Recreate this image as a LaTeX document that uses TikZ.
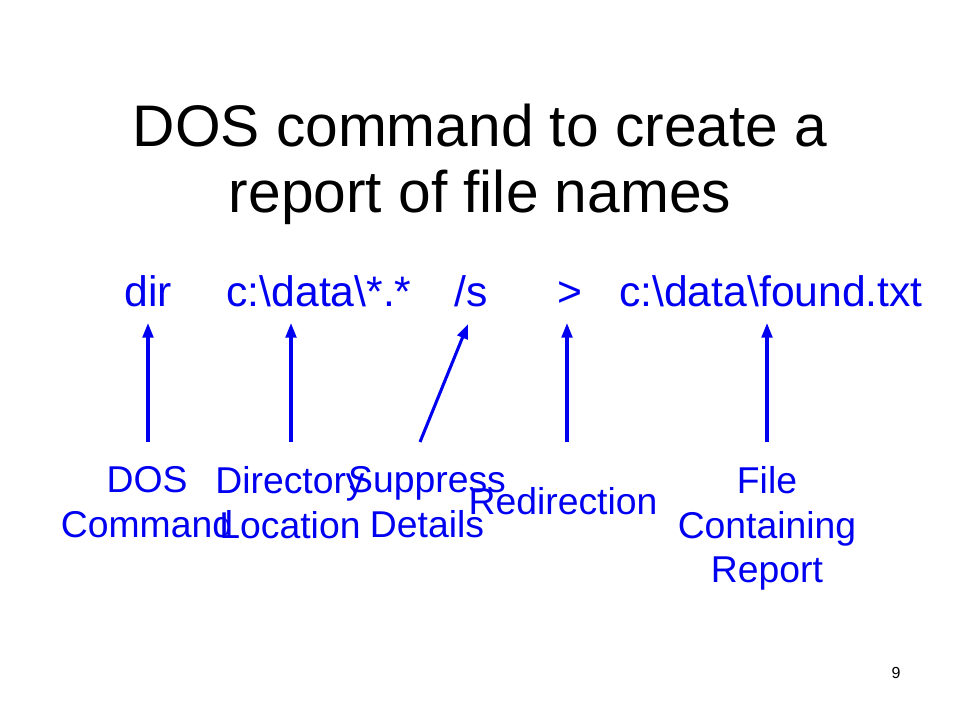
\documentclass[tikz,border=0pt]{standalone}
\usepackage{fontspec}
\setmainfont{Liberation Sans}
\usetikzlibrary{arrows.meta}
\definecolor{ink}{RGB}{0,0,240}
\tikzset{
  titletext/.style={inner sep=0pt, anchor=base, font=\fontsize{44}{49.5}\selectfont, text=black},
  cmd/.style={inner sep=0pt, anchor=base, font=\fontsize{32}{38}\selectfont, text=ink},
  lbl/.style={inner sep=0pt, anchor=north, align=center, font=\fontsize{28}{33.6}\selectfont, text=ink},
  ptr/.style={draw=ink, line width=2.3pt, -{Triangle[length=11pt,width=8pt]}},
}
\begin{document}
\begin{tikzpicture}[x=0.75pt,y=-0.75pt]
\useasboundingbox (0,0) rectangle (960,720);
\node[titletext] (t1) at (480,147) {DOS command to create a};
\node[titletext] (t2) at (480,213) {report of file names};
\node[cmd] (c1) at (148,306) {dir};
\node[cmd] (c2) at (319,306) {c:\textbackslash data\textbackslash *.*};
\node[cmd] (c3) at (471,306) {/s};
\node[cmd] (c4) at (570,306) {>};
\node[cmd] (c5) at (771,306) {c:\textbackslash data\textbackslash found.txt};
\coordinate (a1) at (148,442);
\coordinate (a2) at (291,442);
\coordinate (a3) at (420,442);
\coordinate (a4) at (567,442);
\coordinate (a5) at (767,442);
\coordinate (h1) at (148,323);
\coordinate (h2) at (291,323);
\coordinate (h3) at (468,324);
\coordinate (h4) at (567,323);
\coordinate (h5) at (767,323);
\draw[ptr] (a1) -- (h1);
\draw[ptr] (a2) -- (h2);
\draw[ptr] (a3) -- (h3);
\draw[ptr] (a4) -- (h4);
\draw[ptr] (a5) -- (h5);
\node[lbl] (l1) at (147,466) {DOS\\Command};
\node[lbl] (l2) at (290,466) {Directory\\Location};
\node[lbl] (l3) at (427,466) {Suppress\\Details};
\node[lbl] (l4) at (563,487) {Redirection};
\node[lbl] (l5) at (767,466) {File\\Containing\\Report};
\node[inner sep=0pt, anchor=base, font=\fontsize{12}{14}\selectfont] (pg) at (896,678) {9};
\end{tikzpicture}
\end{document}
